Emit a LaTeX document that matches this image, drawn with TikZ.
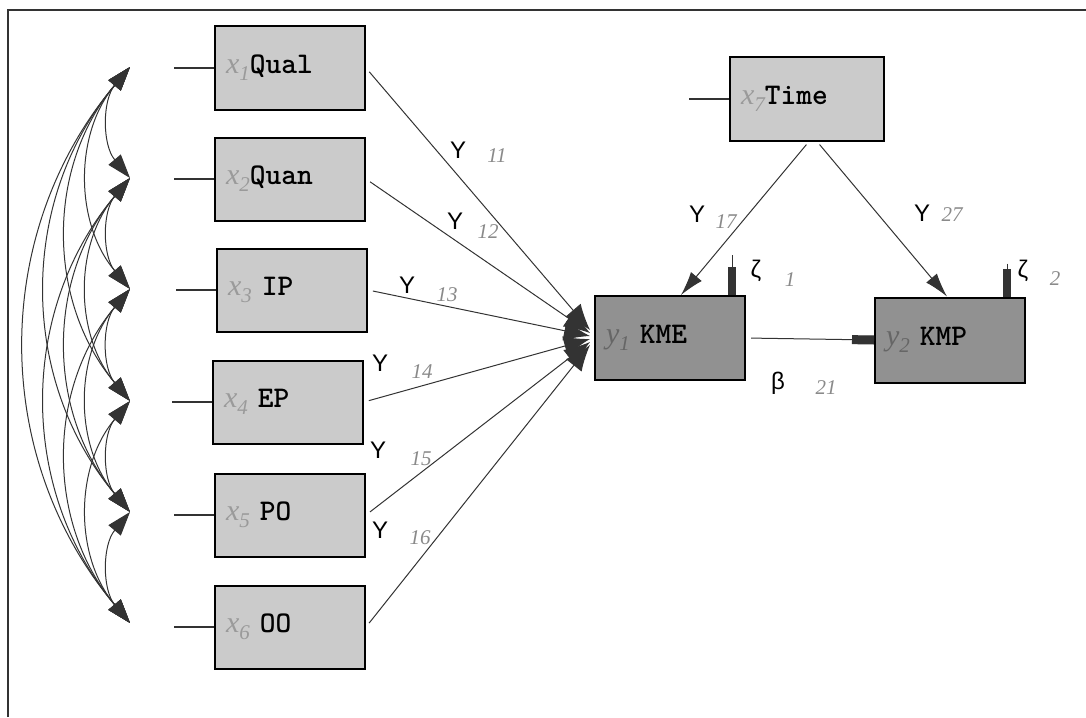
\documentclass[tikz,border=0pt]{standalone}
\usepackage{fontspec}
\setmainfont{Liberation Serif}
\newfontfamily\symfont{Liberation Sans}
\usetikzlibrary{arrows.meta,positioning}
\definecolor{lightbox}{HTML}{CBCBCB}
\definecolor{darkbox}{HTML}{919191}
\definecolor{linegray}{HTML}{333333}
\definecolor{subgray}{HTML}{9A9A9A}
\definecolor{numgray}{HTML}{8A8A8A}
\newcommand{\xv}[1]{{\color{subgray}\fontsize{30pt}{30pt}\selectfont\rmfamily\mdseries\itshape x\raisebox{-7pt}{\fontsize{21pt}{21pt}\selectfont #1}}}
\newcommand{\yv}[1]{{\color{gray!80!black}\fontsize{30pt}{30pt}\selectfont\rmfamily\mdseries\itshape y\raisebox{-7pt}{\fontsize{21pt}{21pt}\selectfont #1}}}
\tikzset{
  obsbox/.style={draw=black, line width=2pt, fill=lightbox, minimum height=83pt,
    text width=128pt, inner sep=11pt, align=left, font=\ttfamily\bfseries\fontsize{30pt}{30pt}\selectfont},
  latbox/.style={obsbox, fill=darkbox},
  path/.style={draw=linegray, line width=1pt, shorten <=5pt, -{Latex[length=26pt,width=20pt]}},
  cov/.style={draw=linegray, line width=1pt, {Triangle[length=24pt,width=16pt]}-{Triangle[length=24pt,width=16pt]}},
  err/.style={draw=linegray, line width=1.2pt},
  zeta/.style={draw=linegray, line width=1pt, -{Rectangle[length=28pt,width=8pt]}},
  gam/.style={font=\symfont\fontsize{24pt}{24pt}\selectfont},
  idx/.style={text=numgray, font=\itshape\fontsize{21pt}{21pt}\selectfont}
}

\begin{document}
\begin{tikzpicture}[x=1pt,y=-1pt]
  \useasboundingbox (0,0) rectangle (1086,717);
  % frame
  \draw[line width=1.5pt, draw=linegray] (8,717) -- (8,10) -- (1086,10);

  % exogenous variables
  \node[obsbox] (qual) at (290,68)  {\xv{1}Qual};
  \node[obsbox] (quan) at (290,179) {\xv{2}Quan};
  \node[obsbox] (ip)   at (292,290) {\xv{3} IP};
  \node[obsbox] (ep)   at (288,402) {\xv{4} EP};
  \node[obsbox] (po)   at (290,515) {\xv{5} PO};
  \node[obsbox] (oo)   at (290,627) {\xv{6} OO};
  \node[obsbox, text width=132pt] (time) at (807,99) {\xv{7}Time};

  % endogenous variables
  \node[latbox, minimum height=84pt] (kme) at (670,338) {\yv{1} KME};
  \node[latbox, minimum height=85pt] (kmp) at (950,340) {\yv{2} KMP};

  % error terms
  \foreach \v in {qual,quan,ip,ep,po,oo,time}
    \draw[err] (\v.west) -- ++(-40,0);

  % covariances
  \foreach \n/\y in {1/67,2/178,3/289,4/401,5/512,6/623}
    \coordinate (c\n) at (130,\y);
  \foreach \i in {1,...,5} {
    \pgfmathtruncatemacro\nxt{\i+1}
    \foreach \j in {\nxt,...,6}
      \draw[cov] (c\i) to[bend right=40] (c\j);
  }

  % paths into KME
  \draw[path] (qual.east) -- ([xshift=-4pt,yshift=8pt]kme.west);
  \draw[path] (quan.east) -- ([xshift=-4pt,yshift=5pt]kme.west);
  \draw[path] (ip.east)   -- ([xshift=-4pt,yshift=2pt]kme.west);
  \draw[path] (ep.east)   -- ([xshift=-4pt,yshift=-1pt]kme.west);
  \draw[path] (po.east)   -- ([xshift=-4pt,yshift=-4pt]kme.west);
  \draw[path] (oo.east)   -- ([xshift=-4pt,yshift=-7pt]kme.west);
  \draw[path, shorten <=4pt, -{Latex[length=24pt,width=14pt]}] ([xshift=2pt]time.south) -- ([xshift=11pt]kme.north);
  \draw[path, shorten <=4pt, -{Latex[length=24pt,width=14pt]}] ([xshift=10pt]time.south) -- ([xshift=-3pt]kmp.north);
  \draw[zeta, shorten <=5pt, -{Rectangle[length=22pt,width=9pt]}] (kme.east) -- (kmp.west);

  % disturbances
  \coordinate (z1) at ([xshift=-14pt,yshift=40pt]kme.north east);
  \coordinate (z2) at ([xshift=-19pt,yshift=33pt]kmp.north east);
  \draw[zeta] (z1) -- ([xshift=-14pt]kme.north east);
  \draw[zeta] (z2) -- ([xshift=-19pt]kmp.north east);

  % labels
  \node[gam] (g11) at (458,150) {Y}; \node[idx] (n11) at (497,156) {11};
  \node[gam] (g12) at (455,221) {Y}; \node[idx] (n12) at (488,232) {12};
  \node[gam] (g13) at (407,285) {Y}; \node[idx] (n13) at (447,295) {13};
  \node[gam] (g14) at (380,363) {Y}; \node[idx] (n14) at (422,372) {14};
  \node[gam] (g15) at (378,450) {Y}; \node[idx] (n15) at (421,459) {15};
  \node[gam] (g16) at (380,530) {Y}; \node[idx] (n16) at (420,538) {16};
  \node[gam] (g17) at (697,214) {Y}; \node[idx] (n17) at (726,222) {17};
  \node[gam] (g27) at (922,213) {Y}; \node[idx] (n27) at (952,215) {27};
  \node[gam] (ze1) at (756,271) {ζ}; \node[idx] (n1)  at (790,280) {1};
  \node[gam] (ze2) at (1023,271) {ζ}; \node[idx] (n2) at (1055,279) {2};
  \node[gam] (b21) at (778,383) {β}; \node[idx] (n21) at (826,388) {21};
\end{tikzpicture}
\end{document}
